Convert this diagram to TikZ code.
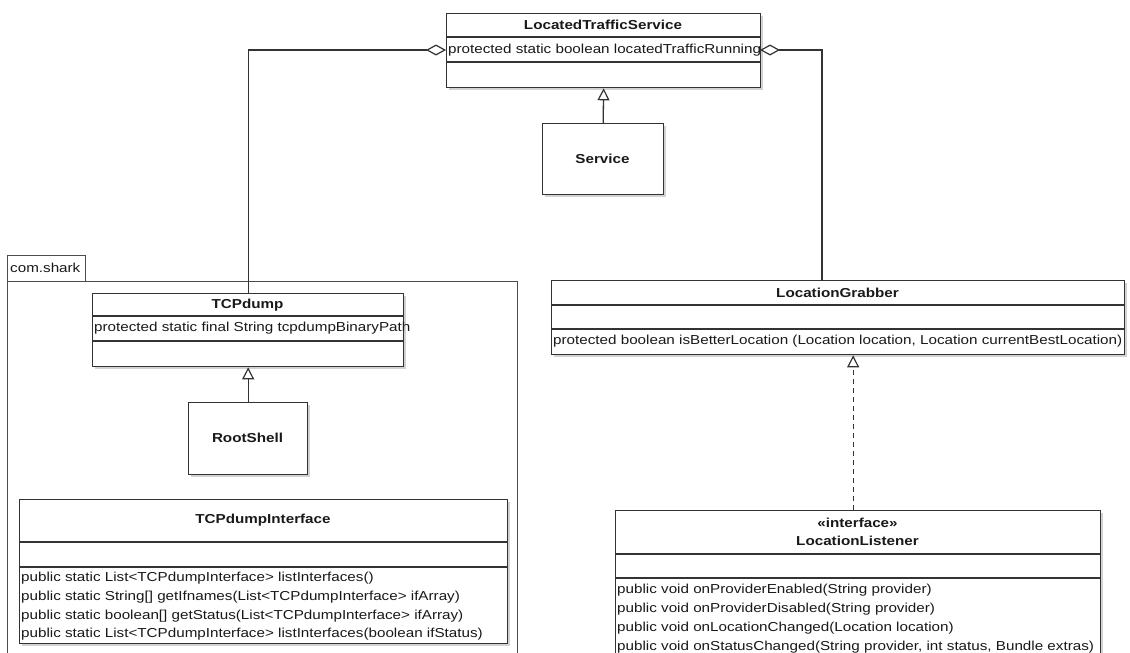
\documentclass[tikz,border=0pt]{standalone}
\usepackage{fontspec}
\setmainfont{Liberation Sans}[FakeStretch=1.17]
\usetikzlibrary{arrows.meta,shadows}
\tikzset{
  cls/.style={draw=black!80, line width=1.3pt, fill=white, anchor=north west, inner sep=0pt,
    drop shadow={shadow xshift=2pt, shadow yshift=-2pt, opacity=0.35}},
  pkg/.style={draw=black!70, line width=1.1pt, fill=white, anchor=north west, inner sep=0pt},
  sepline/.style={draw=black!80, line width=1.3pt},
  ttl/.style={font=\fontsize{13}{15}\selectfont\bfseries, inner sep=0pt, text=black!90},
  mbr/.style={font=\fontsize{13}{15}\selectfont, inner sep=0pt, anchor=west, text=black!90},
  conn/.style={draw=black!80, line width=1.3pt},
  agg/.style={conn, -{Diamond[open, length=20pt, width=11pt, line width=1.2pt]}},
  gen/.style={conn, -{Triangle[open, length=12pt, width=12pt, line width=1.2pt]}},
  real/.style={gen, dash pattern=on 5pt off 4pt}
}
\begin{document}
\begin{tikzpicture}[x=1pt, y=-1pt]
\useasboundingbox (0,0) rectangle (1130,653);
\fill[white] (0,0) rectangle (1130,653);

% package com.shark
\node[pkg, minimum width=78pt, minimum height=26pt] (tab) at (7,255) {};
\node[mbr] (tabT) at (10,268) {com.shark};
\node[pkg, minimum width=510pt, minimum height=440pt] (pkgbody) at (7,281) {};

% LocatedTrafficService
\node[cls, minimum width=314pt, minimum height=74pt] (lts) at (446,13) {};
\draw[sepline] (446,37) -- (760,37);
\draw[sepline] (446,62) -- (760,62);
\node[ttl] (ltsT) at (603,25) {LocatedTrafficService};
\node[mbr] (ltsA) at (448,50) {protected static boolean locatedTrafficRunning};
\coordinate (ltsL) at (446,50);
\coordinate (ltsR) at (760,50);

% Service
\node[cls, minimum width=121pt, minimum height=71pt] (svc) at (542,123) {};
\node[ttl] (svcT) at (602.5,158.5) {Service};

% TCPdump
\node[cls, minimum width=311pt, minimum height=73pt] (tcp) at (92,293) {};
\draw[sepline] (92,316) -- (403,316);
\draw[sepline] (92,341) -- (403,341);
\node[ttl] (tcpT) at (247.5,305) {TCPdump};
\node[mbr] (tcpA) at (94,328.5) {protected static final String tcpdumpBinaryPath};

% RootShell
\node[cls, minimum width=119pt, minimum height=72pt] (rs) at (188,402) {};
\node[ttl] (rsT) at (247.5,438) {RootShell};

% TCPdumpInterface
\node[cls, minimum width=488pt, minimum height=144pt] (tif) at (19,499) {};
\draw[sepline] (19,542) -- (507,542);
\draw[sepline] (19,567) -- (507,567);
\node[ttl] (tifT) at (263,520.5) {TCPdumpInterface};
\node[mbr] (tif1) at (21,578) {public static List<TCPdumpInterface> listInterfaces()};
\node[mbr] (tif2) at (21,597) {public static String[] getIfnames(List<TCPdumpInterface> ifArray)};
\node[mbr] (tif3) at (21,616) {public static boolean[] getStatus(List<TCPdumpInterface> ifArray)};
\node[mbr] (tif4) at (21,634) {public static List<TCPdumpInterface> listInterfaces(boolean ifStatus)};

% LocationGrabber
\node[cls, minimum width=573pt, minimum height=74pt] (lg) at (551,280) {};
\draw[sepline] (551,305) -- (1124,305);
\draw[sepline] (551,329) -- (1124,329);
\node[ttl] (lgT) at (837.5,292.5) {LocationGrabber};
\node[mbr] (lgM) at (553,341.5) {protected boolean isBetterLocation (Location location, Location currentBestLocation)};
\coordinate (lgtop) at (822,280);

% LocationListener
\node[cls, minimum width=485pt, minimum height=200pt] (ll) at (615,510) {};
\draw[sepline] (615,554) -- (1100,554);
\draw[sepline] (615,578) -- (1100,578);
\node[ttl] (llS) at (857.5,523) {«interface»};
\node[ttl] (llT) at (857.5,541) {LocationListener};
\node[mbr] (ll1) at (617,590) {public void onProviderEnabled(String provider)};
\node[mbr] (ll2) at (617,609) {public void onProviderDisabled(String provider)};
\node[mbr] (ll3) at (617,628) {public void onLocationChanged(Location location)};
\node[mbr] (ll4) at (617,647) {public void onStatusChanged(String provider, int status, Bundle extras)};

% connectors
\draw[agg] (tcp.north) |- (ltsL);
\draw[agg] (lgtop) |- (ltsR);
\draw[gen] (svc.north) -- (lts.south);
\draw[gen] (rs.north) -- (tcp.south);
\draw[real] ([xshift=-5pt]ll.north) -- ([xshift=-5pt]ll.north |- lg.south);
\end{tikzpicture}
\end{document}
